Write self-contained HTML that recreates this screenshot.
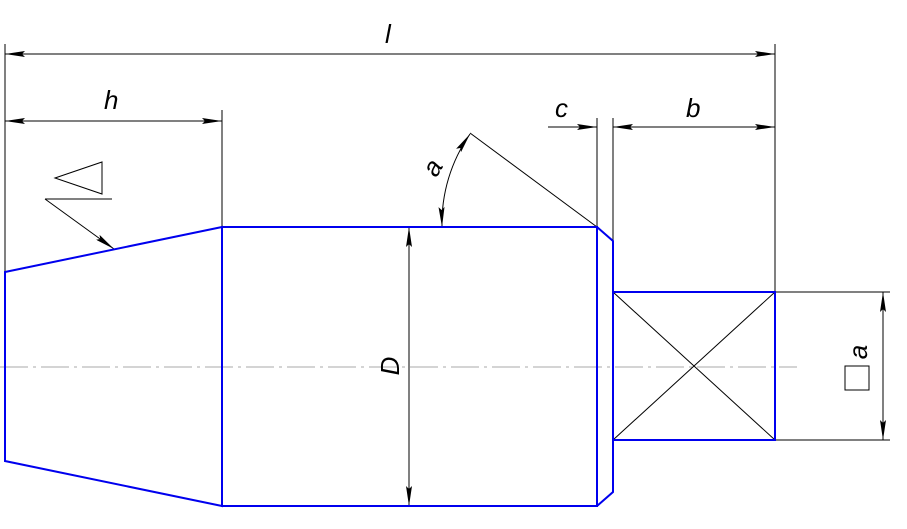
<!DOCTYPE html>
<html><head><style>html,body{margin:0;padding:0;background:#fff;}svg{display:block}</style></head><body>
<svg width="907" height="529" viewBox="0 0 907 529" xmlns="http://www.w3.org/2000/svg">
<defs>
<marker id="ar" viewBox="0 0 20 6" refX="20" refY="3" markerWidth="20" markerHeight="6" markerUnits="userSpaceOnUse" orient="auto-start-reverse"><path d="M0,0 L20,3 L0,6 L3,3 Z" fill="#000"/></marker>
</defs>
<g font-family="Liberation Sans, sans-serif" font-style="italic" font-size="26" fill="#000">
<line x1="0" y1="367" x2="797" y2="367" stroke="#aaa" stroke-width="1" stroke-dasharray="28,5,3,5"/>
<g stroke="#000" stroke-width="1" fill="none">
<line x1="5" y1="44" x2="5" y2="272"/>
<line x1="775" y1="44" x2="775" y2="292"/>
<line x1="222" y1="110" x2="222" y2="227"/>
<line x1="597" y1="118" x2="597" y2="227"/>
<line x1="613" y1="118" x2="613" y2="241"/>
<line x1="5" y1="54" x2="775" y2="54" marker-start="url(#ar)" marker-end="url(#ar)"/>
<line x1="5" y1="121" x2="222" y2="121" marker-start="url(#ar)" marker-end="url(#ar)"/>
<line x1="548" y1="127" x2="597" y2="127" marker-end="url(#ar)"/>
<line x1="613" y1="127" x2="775" y2="127" marker-start="url(#ar)" marker-end="url(#ar)"/>
<line x1="409" y1="227" x2="409" y2="506" marker-start="url(#ar)" marker-end="url(#ar)"/>
<line x1="775" y1="292" x2="890" y2="292"/>
<line x1="775" y1="440" x2="890" y2="440"/>
<line x1="883" y1="292" x2="883" y2="440" marker-start="url(#ar)" marker-end="url(#ar)"/>
<line x1="470" y1="133" x2="597" y2="227"/>
<path d="M470,134 A156,156 0 0 0 442,227" marker-start="url(#ar)" marker-end="url(#ar)"/>
<line x1="613" y1="292" x2="775" y2="440"/>
<line x1="613" y1="440" x2="775" y2="292"/>
<polygon points="55,178 102,162 102,194"/>
<line x1="45" y1="199" x2="112" y2="199"/>
<line x1="45" y1="199" x2="114" y2="249" marker-end="url(#ar)"/>
<rect x="845" y="366" width="24" height="24"/>
</g>
<g stroke="#0000ee" stroke-width="2" fill="none">
<polygon points="5,272 222,227 222,506 5,461"/>
<rect x="222" y="227" width="375" height="279"/>
<polyline points="597,227 613,241 613,492 597,506"/>
<rect x="613" y="292" width="162" height="148"/>
</g>
<text x="385" y="43">l</text>
<text x="104" y="109">h</text>
<text x="555" y="117">c</text>
<text x="686" y="117">b</text>
<text transform="translate(399,366) rotate(-90)" text-anchor="middle">D</text>
<text transform="translate(440,172) rotate(-60)" text-anchor="middle">a</text>
<text transform="translate(867,352) rotate(-90)" text-anchor="middle">a</text>
</g>
</svg>
</body></html>
